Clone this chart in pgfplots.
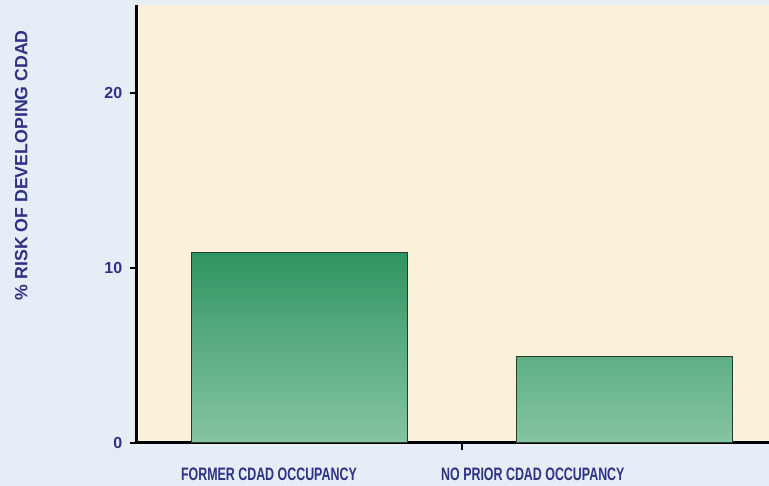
\documentclass[border=0pt]{standalone}
\usepackage{pgfplots}
\pgfplotsset{compat=1.18}
\usepackage{fontspec}
\setmainfont{Liberation Sans}
\newfontfamily\narrowfont[FakeStretch=0.69]{Liberation Sans}
\definecolor{bgout}{HTML}{E6EDF6}
\definecolor{cream}{HTML}{FBF1DB}
\definecolor{navy}{HTML}{2E3184}
\definecolor{bartop}{HTML}{2F9462}
\definecolor{barbot}{HTML}{86C5A2}
\definecolor{baredge}{HTML}{2A3A2E}
\begin{document}
\begin{tikzpicture}
\useasboundingbox (0,0) rectangle (576.75pt,364.5pt);
\clip (0,0) rectangle (576.75pt,364.5pt);
\fill[bgout] (0,0) rectangle (576.75pt,364.5pt);
\begin{axis}[
  at={(102.75pt,32.25pt)}, anchor=south west,
  scale only axis, width=487.5pt, height=328.125pt,
  axis background/.style={fill=cream},
  xmin=-0.5, xmax=1.5, ymin=0, ymax=25,
  axis x line*=bottom, axis y line*=left,
  axis line style={line width=2.25pt, black},
  ytick={0,10,20},
  ytick pos=left, xtick pos=bottom,
  xtick={0.5}, xticklabels={},
  extra x ticks={-0.094,0.718},
  extra x tick labels={FORMER CDAD OCCUPANCY, NO PRIOR CDAD OCCUPANCY},
  extra x tick style={major tick length=0pt,
    xticklabel style={font=\narrowfont\bfseries\fontsize{13.5}{14}\selectfont, text=navy, yshift=-15pt}},
  xtick align=outside, ytick align=outside,
  major tick length=5.5pt,
  every tick/.style={line width=1.8pt, draw=black},
  ytick style={line width=1.8pt, draw=black},
  /pgf/number format/assume math mode=true,
  yticklabel style={font=\bfseries\fontsize{12}{12}\selectfont, text=navy, xshift=-2pt},
  ylabel={\% RISK OF DEVELOPING CDAD},
  ylabel style={at={(axis description cs:-0.178,0.635)}, anchor=center,
    font=\bfseries\fontsize{13.3}{14}\selectfont, text=navy},
]
\addplot[ybar, bar width=0.665, draw=baredge, line width=1.1pt,
  top color=bartop, bottom color=barbot] coordinates {(0,10.9) (1,4.95)};
\end{axis}
\end{tikzpicture}
\end{document}
